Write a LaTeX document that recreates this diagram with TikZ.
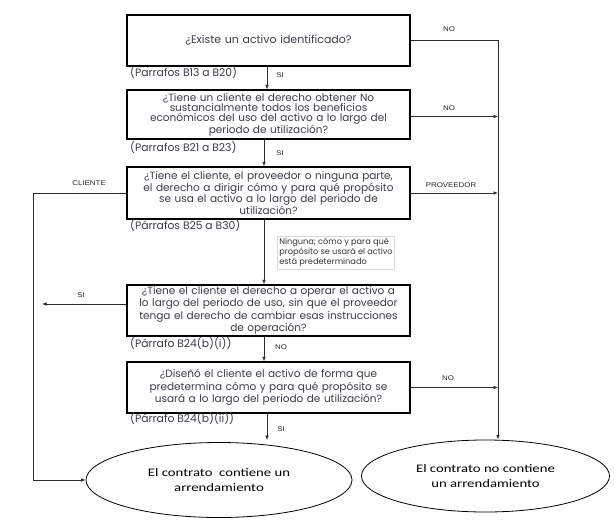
\documentclass[tikz,border=0pt]{standalone}
\usepackage{fontspec}
\setmainfont{Poppins}
\newfontfamily\lblfont{Liberation Sans}[FakeStretch=1.16]
\newfontfamily\elfont{Carlito}[FakeStretch=1.28]
\usetikzlibrary{arrows.meta,shapes.geometric}
\definecolor{txtgray}{RGB}{60,60,72}
\definecolor{linegray}{RGB}{45,45,45}
\begin{document}
\begin{tikzpicture}[x=1pt,y=-1pt,
  qbox/.style={draw=black,line width=1.1pt,minimum width=283pt,text width=279pt,inner sep=1pt,
    align=center,text=txtgray},
  qfont/.style={font=\fontsize{10.5}{#1}\selectfont},
  conn/.style={draw=linegray,line width=0.7pt},
  arr/.style={conn,-{Latex[length=4.5pt,width=3.6pt]}},
  lbl/.style={font=\lblfont\fontsize{6.8}{8}\selectfont,text=black!85,inner sep=0pt},
  parlbl/.style={font=\fontsize{10.8}{12}\selectfont,text=txtgray,anchor=west,inner sep=0pt},
  endnode/.style={draw=black,line width=0.8pt,ellipse,inner sep=0pt,align=center,
    font=\elfont\fontsize{11.5}{14.5}\selectfont}
]
\useasboundingbox (0,0) rectangle (616,527);

% question boxes
\node[qbox,font=\fontsize{11}{12}\selectfont,minimum height=51pt] (b1) at (268.5,40.5) {¿Existe un activo identificado?};
\node[qbox,qfont=10,minimum height=49pt] (b2) at (268.5,114.5)
  {¿Tiene un cliente el derecho obtener No\\ sustancialmente todos los beneficios\\ económicos del uso del activo a lo largo del\\ periodo de utilización?};
\node[qbox,qfont=11.7,minimum height=52pt] (b3) at (268.5,193)
  {¿Tiene el cliente, el proveedor o ninguna parte,\\ el derecho a dirigir cómo y para qué propósito\\ se usa el activo a lo largo del periodo de\\ utilización?};
\node[qbox,qfont=12.3,minimum height=51pt] (b4) at (268.5,310.5)
  {¿Tiene el cliente el derecho a operar el activo a\\ lo largo del periodo de uso, sin que el proveedor\\ tenga el derecho de cambiar esas instrucciones\\ de operación?};
\node[qbox,qfont=12.5,minimum height=51pt] (b5) at (268.5,387.5)
  {¿Diseñó el cliente el activo de forma que\\ predetermina cómo y para qué propósito se\\ usará a lo largo del periodo de utilización?};

% paragraph references
\node[parlbl] (p1) at (130,72.5) {(Parrafos B13 a B20)};
\node[parlbl] (p2) at (130,147) {(Parrafos B21 a B23)};
\node[parlbl] (p3) at (130,225) {(Párrafos B25 a B30)};
\node[parlbl] (p4) at (130,343) {(Párrafo B24(b)(i))};
\node[parlbl] (p5) at (130,418) {(Párrafo B24(b)(ii))};

% note box
\node[draw=black!15,line width=0.5pt,anchor=north west,inner sep=2pt,align=left,text=black!80,
  font=\fontsize{8.2}{10}\selectfont] (nb) at (277,236)
  {Ninguna; cómo y para qué\\ propósito se usará el activo\\ está predeterminado};

% end ellipses
\node[endnode,minimum width=266pt,minimum height=75pt] (e1) at (219,480)
  {El contrato\ \ contiene un\\ arrendamiento};
\node[endnode,minimum width=248pt,minimum height=72pt] (e2) at (485.5,476)
  {El contrato no contiene\\ un arrendamiento};

% helper coordinates
\coordinate (x264) at (264,0);
\coordinate (x267) at (267,0);
\coordinate (x498) at (498,0);
\coordinate (cr) at (498,40.5);
\coordinate (cl1) at (33,193);
\coordinate (cl2) at (33,480);
\coordinate (siend) at (42,304);

% vertical flow
\draw[arr] (b1.south -| x267) -- (b2.north -| x267);
\draw[arr] (b2.south -| x264) -- (b3.north -| x264);
\draw[arr] (b3.south -| x264) -- (b4.north -| x264);
\draw[arr] (b4.south -| x264) -- (b5.north -| x264);
\draw[arr,shorten >=2pt] (b5.south -| x267) -- (e1.north -| x267);

% right side
\draw[conn] (b1.east) -- (cr);
\draw[arr] (cr) -- (e2.north -| x498);
\draw[arr] ([yshift=-2pt]b2.east) -- ([yshift=-2pt]b2.east -| x498);
\draw[arr] (b3.east) -- (b3.east -| x498);
\draw[arr] (b5.east) -- (b5.east -| x498);

% left side
\draw[arr] (b3.west) -- (cl1) -- (cl2) -- (e1.west);
\draw[arr] ([yshift=6.5pt]b4.west) -- (siend);

% connector labels
\node[lbl] (l1) at (280,75) {SI};
\node[lbl] (l2) at (280,153) {SI};
\node[lbl] (l3) at (281,347.5) {NO};
\node[lbl] (l4) at (281,429) {SI};
\node[lbl] (l5) at (449,29) {NO};
\node[lbl] (l6) at (449,108) {NO};
\node[lbl] (l7) at (451,185) {PROVEEDOR};
\node[lbl] (l8) at (448,378) {NO};
\node[lbl] (l9) at (89,183) {CLIENTE};
\node[lbl] (l10) at (81,295) {SI};
\end{tikzpicture}
\end{document}
